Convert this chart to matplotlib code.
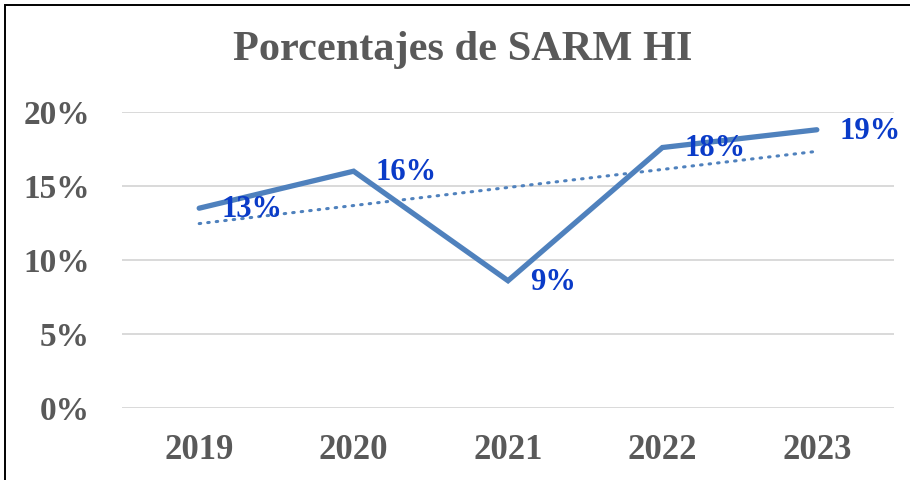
import matplotlib
matplotlib.use("Agg")
import matplotlib.pyplot as plt
import numpy as np
from matplotlib.patches import Rectangle

years = ["2019", "2020", "2021", "2022", "2023"]
values = [0.135, 0.160, 0.086, 0.176, 0.188]
labels = ["13%", "16%", "9%", "18%", "19%"]
yticks = [0.0, 0.05, 0.10, 0.15, 0.20]
ytick_labels = ["0%", "5%", "10%", "15%", "20%"]
title = "Porcentajes de SARM HI"

FONT = ["Liberation Serif", "DejaVu Serif"]
GREY = "#595959"
LINE = "#4F81BD"
LABEL = "#0A3BC8"

fig = plt.figure(figsize=(9.1, 4.8), dpi=100)
W, H = 910, 480
ax = fig.add_axes([122 / W, (H - 408) / H, (894 - 122) / W, (408 - 112) / H])

x = np.arange(len(years))
ax.plot(x, values, color=LINE, lw=3.8, solid_capstyle="round", solid_joinstyle="miter", zorder=3)

coef = np.polyfit(x, values, 1)
ax.plot(x, np.polyval(coef, x), color=LINE, lw=2.2, linestyle=(0, (0.5, 2.3)),
        dash_capstyle="round", zorder=2)

for xi, v, lab in zip(x, values, labels):
    ax.annotate(lab, (xi, v), xytext=(16, -1), textcoords="offset points",
                ha="left", va="center", color=LABEL, fontsize=22,
                fontweight="bold", family=FONT, zorder=4)

ax.set_xlim(-0.5, 4.5)
ax.set_ylim(0, 0.2)
ax.set_xticks(x)
ax.set_xticklabels(years)
ax.set_yticks(yticks)
ax.set_yticklabels(ytick_labels)
ax.tick_params(axis="both", length=0, colors=GREY)
ax.tick_params(axis="x", pad=19, labelsize=25)
ax.tick_params(axis="y", pad=23, labelsize=24)
for t in ax.get_xticklabels() + ax.get_yticklabels():
    t.set_fontweight("bold")
    t.set_family(FONT)
for s in ax.spines.values():
    s.set_visible(False)
ax.grid(axis="y", color="#D9D9D9", lw=1.4)
ax.set_axisbelow(True)

fig.text(463 / W, 1 - 50 / H, title, ha="center", va="center", color=GREY,
         fontsize=30.5, fontweight="bold", family=FONT)

fig.patches.append(Rectangle((5 / W, -0.1), 1.2, (H - 5) / H + 0.1, transform=fig.transFigure,
                             fill=False, edgecolor="#000000", lw=1.4))

fig.savefig("out.png", dpi=100)
